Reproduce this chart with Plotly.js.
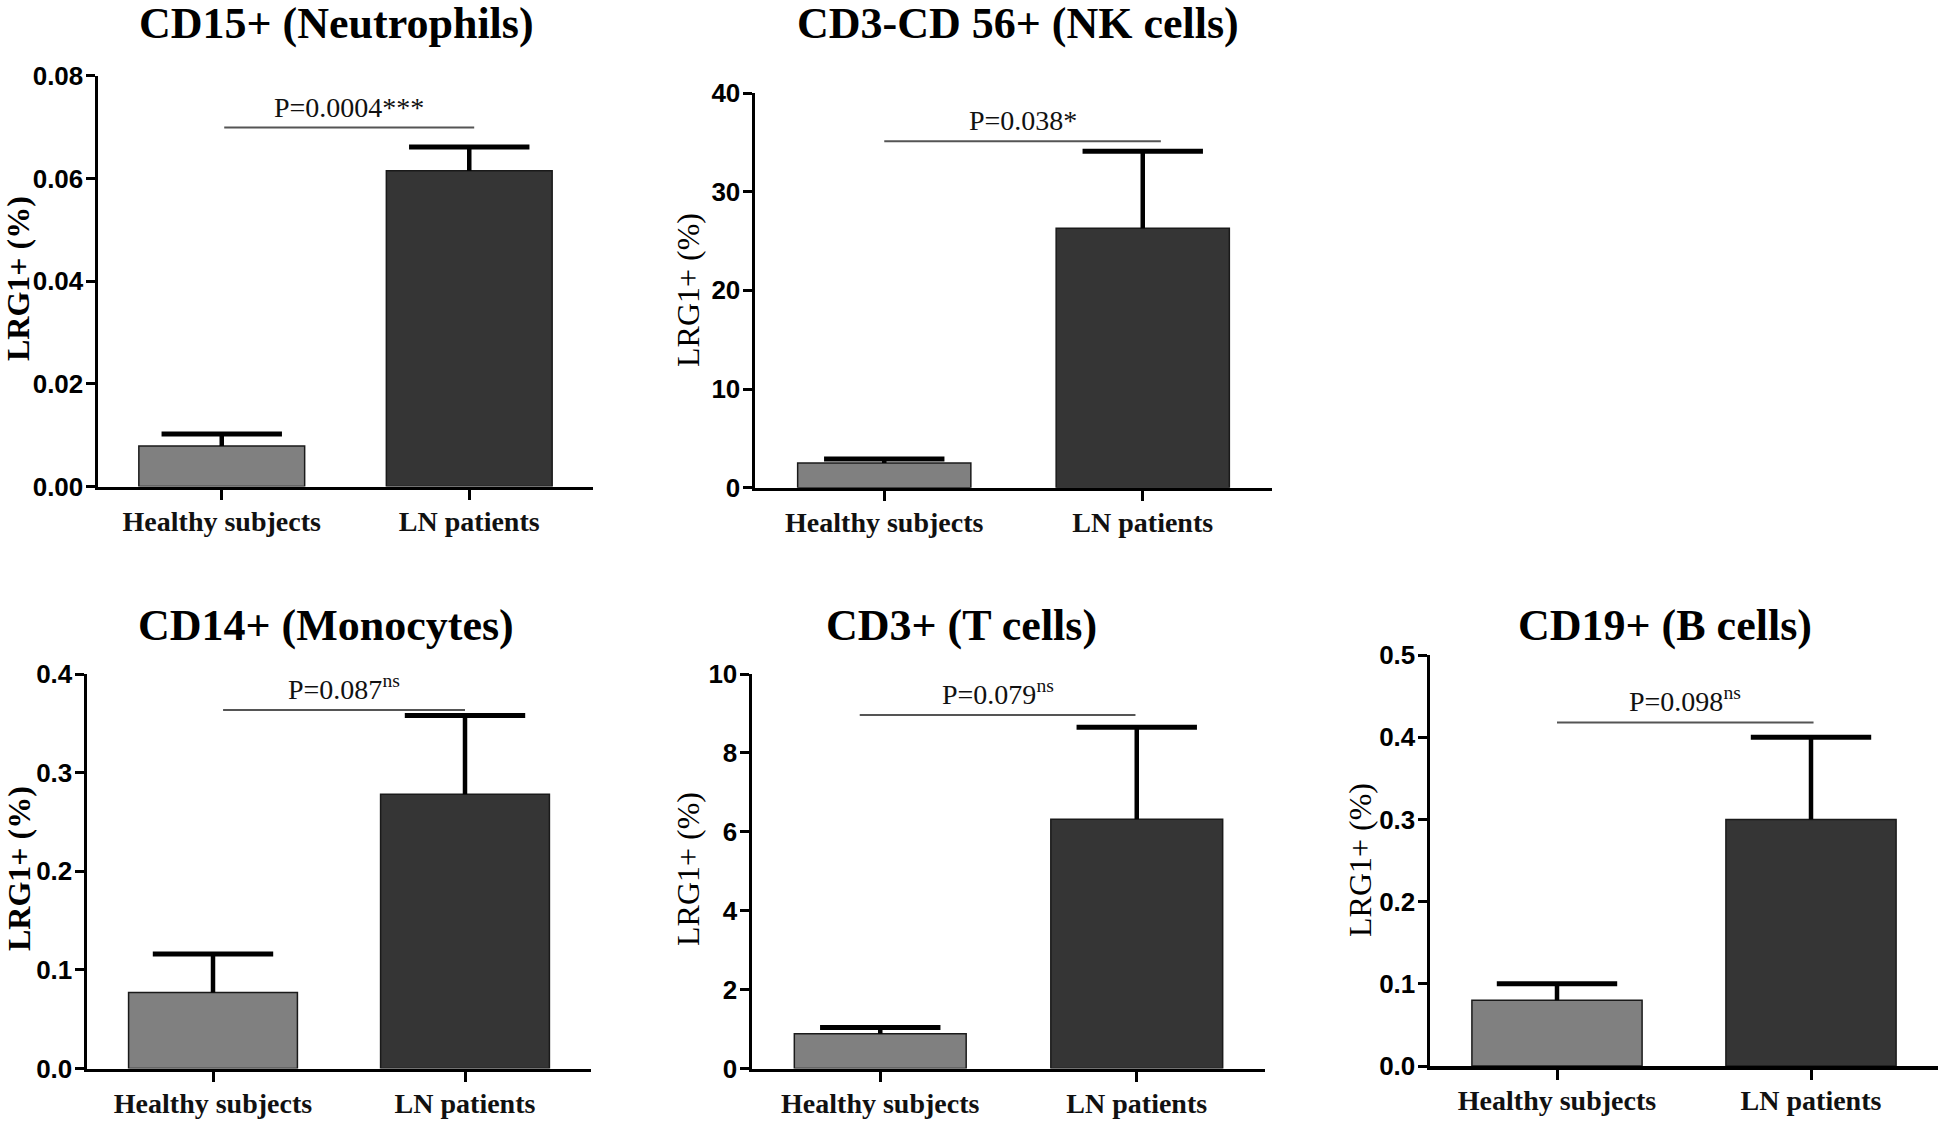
<!DOCTYPE html>
<html>
<head>
<meta charset="utf-8">
<script src="https://cdn.plot.ly/plotly-3.0.1.min.js"></script>
<style>
  html, body { margin: 0; padding: 0; background: #ffffff; }
  #chart { width: 1946px; height: 1125px; }
</style>
</head>
<body>
<div id="chart"></div>
<script>
// ---------------- data ----------------
const categories = ['Healthy subjects', 'LN patients'];
const panelTitles = ['CD15+ (Neutrophils)', 'CD3-CD 56+ (NK cells)', 'CD14+ (Monocytes)', 'CD3+ (T cells)', 'CD19+ (B cells)'];
const yTitle = 'LRG1+ (%)';
const healthyMean = [0.0079, 2.5, 0.077, 0.88, 0.080];
const healthyErr  = [0.0023, 0.4, 0.039, 0.16, 0.020];
const lnMean      = [0.0615, 26.3, 0.278, 6.32, 0.300];
const lnErr       = [0.0046, 7.8, 0.080, 2.33, 0.100];
const pText  = ['P=0.0004***', 'P=0.038*', 'P=0.087<sup>ns</sup>', 'P=0.079<sup>ns</sup>', 'P=0.098<sup>ns</sup>'];
const pLineY = [0.0699, 35.1, 0.3635, 8.96, 0.418];
const yMax   = [0.08, 40, 0.4, 10, 0.5];
const yStep  = [0.02, 10, 0.1, 2, 0.1];
const yFormat = ['.2f', 'd', '.1f', 'd', '.1f'];

// ---------------- layout config (positions / styles) ----------------
const W = 1946, H = 1125;
const px = v => v / W, py = v => 1 - v / H;
const panels = [
  { x: [98, 593],   y: [486.5, 75.7], title: [336, 23],  ytl: [18, 279],  ybold: true,  line: [0.01, 1.02] },
  { x: [755, 1272], y: [487.7, 93],   title: [1018, 23], ytl: [688, 290], ybold: false, line: [0.0, 1.07] },
  { x: [87, 591],   y: [1068.5, 674], title: [326, 625], ytl: [19, 869],  ybold: true,  line: [0.04, 1.0] },
  { x: [752, 1265], y: [1068.5, 674], title: [961, 625], ytl: [688, 869], ybold: false, line: [-0.08, 0.995] },
  { x: [1430, 1938],y: [1066, 655],   title: [1665, 625],ytl: [1360, 860],ybold: false, line: [0.0, 1.01] }
];

const serif = 'Liberation Serif, Times New Roman, serif';
const sans = 'Liberation Sans, Arial, sans-serif';

const traces = [];
const layout = {
  width: W, height: H,
  margin: { l: 0, r: 0, t: 0, b: 0 },
  paper_bgcolor: '#ffffff', plot_bgcolor: 'rgba(0,0,0,0)',
  showlegend: false, bargap: 0,
  annotations: [], shapes: []
};

panels.forEach((p, i) => {
  const n = i + 1;
  const xa = 'x' + (n === 1 ? '' : n), ya = 'y' + (n === 1 ? '' : n);
  const xk = 'xaxis' + (n === 1 ? '' : n), yk = 'yaxis' + (n === 1 ? '' : n);
  const means = [healthyMean[i], lnMean[i]];
  const errs = [healthyErr[i], lnErr[i]];

  // bars
  traces.push({
    type: 'bar', x: [0, 1], y: means,
    xaxis: xa, yaxis: ya, width: 0.67,
    marker: { color: ['#808080', '#353535'], line: { color: '#1a1a1a', width: 1.5 } },
    hoverinfo: 'skip'
  });
  // error stems (upper only, no caps)
  traces.push({
    type: 'scatter', mode: 'markers', x: [0, 1], y: means,
    xaxis: xa, yaxis: ya,
    marker: { size: 1, color: 'rgba(0,0,0,0)' },
    error_y: { type: 'data', symmetric: false, array: errs, arrayminus: [0, 0],
               color: '#000000', thickness: 4.5, width: 0 },
    hoverinfo: 'skip', cliponaxis: false
  });
  // error caps at mean + SEM
  traces.push({
    type: 'scatter', mode: 'markers', x: [0, 1], y: means.map((m, k) => m + errs[k]),
    xaxis: xa, yaxis: ya,
    marker: { symbol: 'line-ew', size: 86, color: '#000', line: { color: '#000', width: 5 } },
    hoverinfo: 'skip', cliponaxis: false
  });

  layout[xk] = {
    domain: [px(p.x[0]), px(p.x[1])], anchor: ya, range: [-0.5, 1.5],
    tickmode: 'array', tickvals: [0, 1], ticktext: categories,
    showline: true, linecolor: '#000', linewidth: 3.5, mirror: false,
    ticks: 'outside', ticklen: 10, tickwidth: 3, tickcolor: '#000', ticklabelstandoff: -3,
    tickfont: { family: serif, size: 28, color: '#111', weight: 'bold' },
    showgrid: false, zeroline: false, fixedrange: true
  };
  layout[yk] = {
    domain: [py(p.y[0]), py(p.y[1])], anchor: xa, range: [0, yMax[i]],
    tick0: 0, dtick: yStep[i], tickformat: yFormat[i],
    showline: true, linecolor: '#000', linewidth: 3.5,
    ticks: 'outside', ticklen: 9, tickwidth: 3, tickcolor: '#000', ticklabelstandoff: -3,
    tickfont: { family: sans, size: 26, color: '#000', weight: 'bold' },
    showgrid: false, zeroline: false, fixedrange: true
  };

  // panel title
  layout.annotations.push({
    xref: 'paper', yref: 'paper', x: px(p.title[0]), y: py(p.title[1]),
    xanchor: 'center', yanchor: 'middle', showarrow: false,
    text: '<b>' + panelTitles[i] + '</b>',
    font: { family: serif, size: 44, color: '#000' }
  });
  // y-axis title
  layout.annotations.push({
    xref: 'paper', yref: 'paper', x: px(p.ytl[0]), y: py(p.ytl[1]),
    xanchor: 'center', yanchor: 'middle', showarrow: false, textangle: -90,
    text: p.ybold ? '<b>' + yTitle + '</b>' : yTitle,
    font: { family: serif, size: 32, color: '#000' }
  });
  // significance line + text
  layout.shapes.push({
    type: 'line', xref: xa, yref: ya, x0: p.line[0], x1: p.line[1], y0: pLineY[i], y1: pLineY[i],
    line: { color: '#555', width: 2 }
  });
  layout.annotations.push({
    xref: xa, yref: ya, x: (p.line[0] + p.line[1]) / 2, y: pLineY[i],
    xanchor: 'center', yanchor: 'bottom', yshift: 3, showarrow: false,
    text: pText[i], font: { family: serif, size: 28, color: '#111' }
  });
});

Plotly.newPlot('chart', traces, layout, { displayModeBar: false, staticPlot: true });
</script>
</body>
</html>
